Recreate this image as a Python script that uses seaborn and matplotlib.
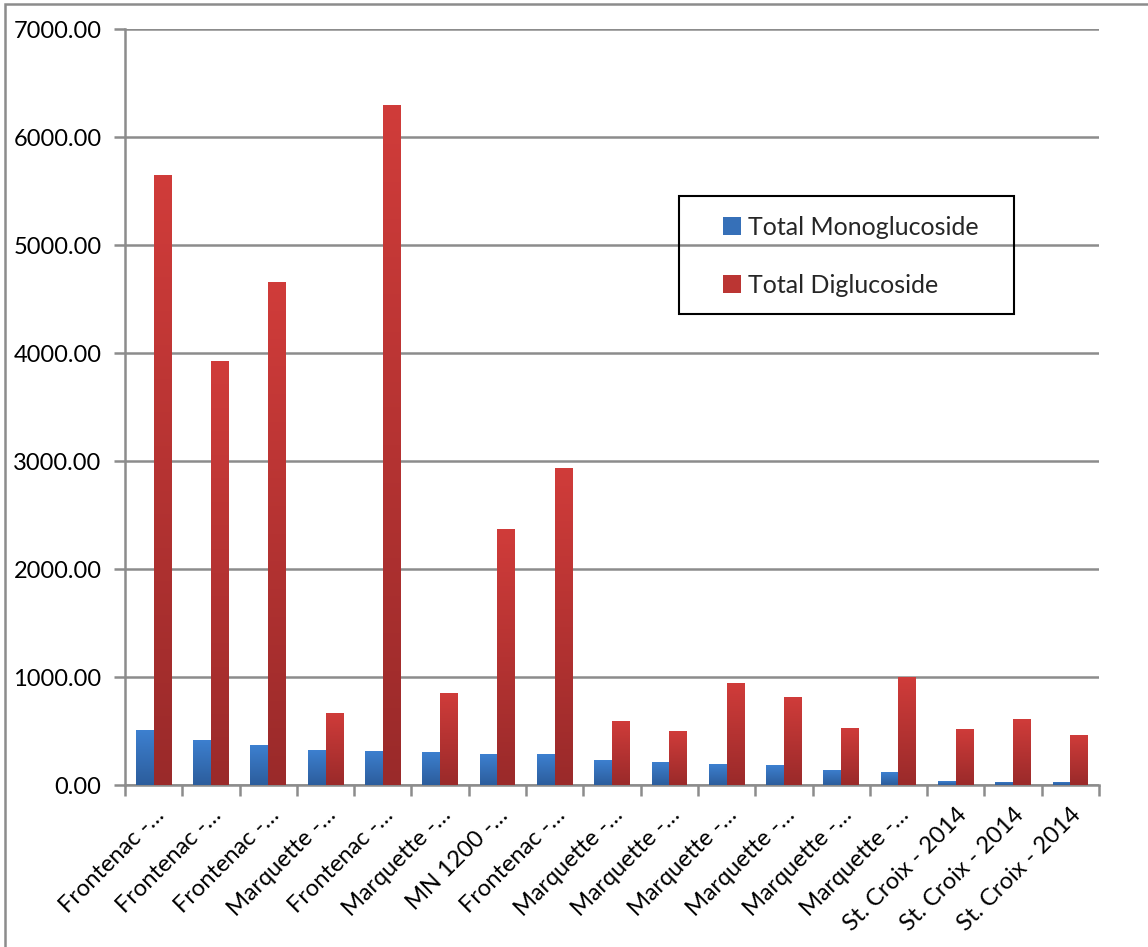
import numpy as np
import pandas as pd
import matplotlib
matplotlib.use("Agg")
import matplotlib.pyplot as plt
import matplotlib.colors as mcolors
from matplotlib.patches import Rectangle
import seaborn as sns

# Anthocyanin totals per wine sample
samples = [
    "Frontenac -\u2026", "Frontenac -\u2026", "Frontenac -\u2026", "Marquette -\u2026",
    "Frontenac -\u2026", "Marquette -\u2026", "MN 1200 -\u2026", "Frontenac -\u2026",
    "Marquette -\u2026", "Marquette -\u2026", "Marquette -\u2026", "Marquette -\u2026",
    "Marquette -\u2026", "Marquette -\u2026", "St. Croix - 2014", "St. Croix - 2014",
    "St. Croix - 2014",
]
monoglucoside = [509, 417, 370, 324, 315, 306, 287, 287, 231, 213, 194, 185,
                 139, 120, 37, 28, 28]
diglucoside = [5648, 3926, 4657, 667, 6296, 852, 2370, 2935, 593, 500, 944, 815,
               528, 1000, 519, 611, 463]
series_names = ["Total Monoglucoside", "Total Diglucoside"]
y_ticks = [0, 1000, 2000, 3000, 4000, 5000, 6000, 7000]

sns.set_theme(style="white")
plt.rcParams["font.family"] = ["Lato", "DejaVu Sans"]

n = len(samples)
df = pd.DataFrame({
    "idx": np.tile(np.arange(n), 2),
    "value": monoglucoside + diglucoside,
    "series": np.repeat(series_names, n),
})

W, H = 1148, 947
fig = plt.figure(figsize=(W / 100, H / 100), dpi=100)
ax = fig.add_axes([125 / W, 1 - 785 / H, (1099 - 125) / W, (785 - 29) / H])

top_cols = ["#3d80d0", "#d03c3a"]
bot_cols = ["#2c5d9c", "#9a2a2a"]
mid_cols = ["#3670b8", "#bb3533"]

sns.barplot(data=df, x="idx", y="value", hue="series", hue_order=series_names,
            palette=mid_cols, width=0.62, dodge=True, ax=ax, legend=False,
            saturation=1, errorbar=None)

ax.set_ylim(0, 7000)
ax.set_xlim(-0.5, n - 0.5)

# vertical gradient fill for each bar
grad = np.linspace(0, 1, 256).reshape(-1, 1)
for patch, s in zip(ax.patches, np.repeat([0, 1], n)):
    x0, y0 = patch.get_x(), patch.get_y()
    w, h = patch.get_width(), patch.get_height()
    if h <= 0:
        continue
    cmap = mcolors.LinearSegmentedColormap.from_list(
        "g", [bot_cols[s], top_cols[s]])
    im = ax.imshow(grad, extent=[x0, x0 + w, y0, y0 + h], origin="lower",
                   cmap=cmap, aspect="auto", zorder=3, interpolation="bilinear")
    im.set_clip_path(patch)
    patch.set_facecolor("none")
    patch.set_edgecolor("none")
ax.set_xlim(-0.5, n - 0.5)
ax.set_ylim(0, 7000)

# axes styling
ax.set_yticks(y_ticks)
ax.set_yticklabels([f"{v:.2f}" for v in y_ticks], fontsize=17, color="black")
ax.yaxis.grid(True, color="#8c8c8c", linewidth=1.8)
ax.set_axisbelow(True)
for side in ["top", "right"]:
    ax.spines[side].set_visible(False)
for side in ["left", "bottom"]:
    ax.spines[side].set_color("#8c8c8c")
    ax.spines[side].set_linewidth(1.8)
ax.tick_params(axis="y", which="major", direction="out", length=8, width=1.8,
               color="#8c8c8c", left=True, pad=9)

ax.set_xticks(np.arange(n))
ax.set_xticklabels(samples, rotation=45, ha="right", rotation_mode="anchor",
                   fontsize=17, color="black")
ax.tick_params(axis="x", which="major", length=0, pad=14)
ax.set_xticks(np.arange(n + 1) - 0.5, minor=True)
ax.tick_params(axis="x", which="minor", direction="out", length=8, width=1.8,
               color="#8c8c8c", bottom=True)
ax.set_xlabel("")
ax.set_ylabel("")

# legend: entries without frame, box drawn separately
handles = [Rectangle((0, 0), 1, 1, facecolor=c, edgecolor="none") for c in mid_cols]
fig.legend(handles, series_names, loc="upper left",
           bbox_to_anchor=(723 / W, 1 - 216 / H), fontsize=18,
           frameon=False, handlelength=0.72, handleheight=0.72,
           handletextpad=0.28, labelspacing=1.39, borderpad=0,
           borderaxespad=0)
fig.patches.append(Rectangle((679 / W, 1 - 314 / H), (1014 - 679) / W,
                             (314 - 196) / H, transform=fig.transFigure,
                             fill=False, edgecolor="black", linewidth=1.5,
                             zorder=5))

# outer chart border
fig.patches.append(Rectangle((5 / W, -0.05), 1.2, 1 - 4 / H + 0.05,
                             transform=fig.transFigure, fill=False,
                             edgecolor="#8c8c8c", linewidth=1.8))

fig.savefig("out.png", dpi=100, facecolor="white")
